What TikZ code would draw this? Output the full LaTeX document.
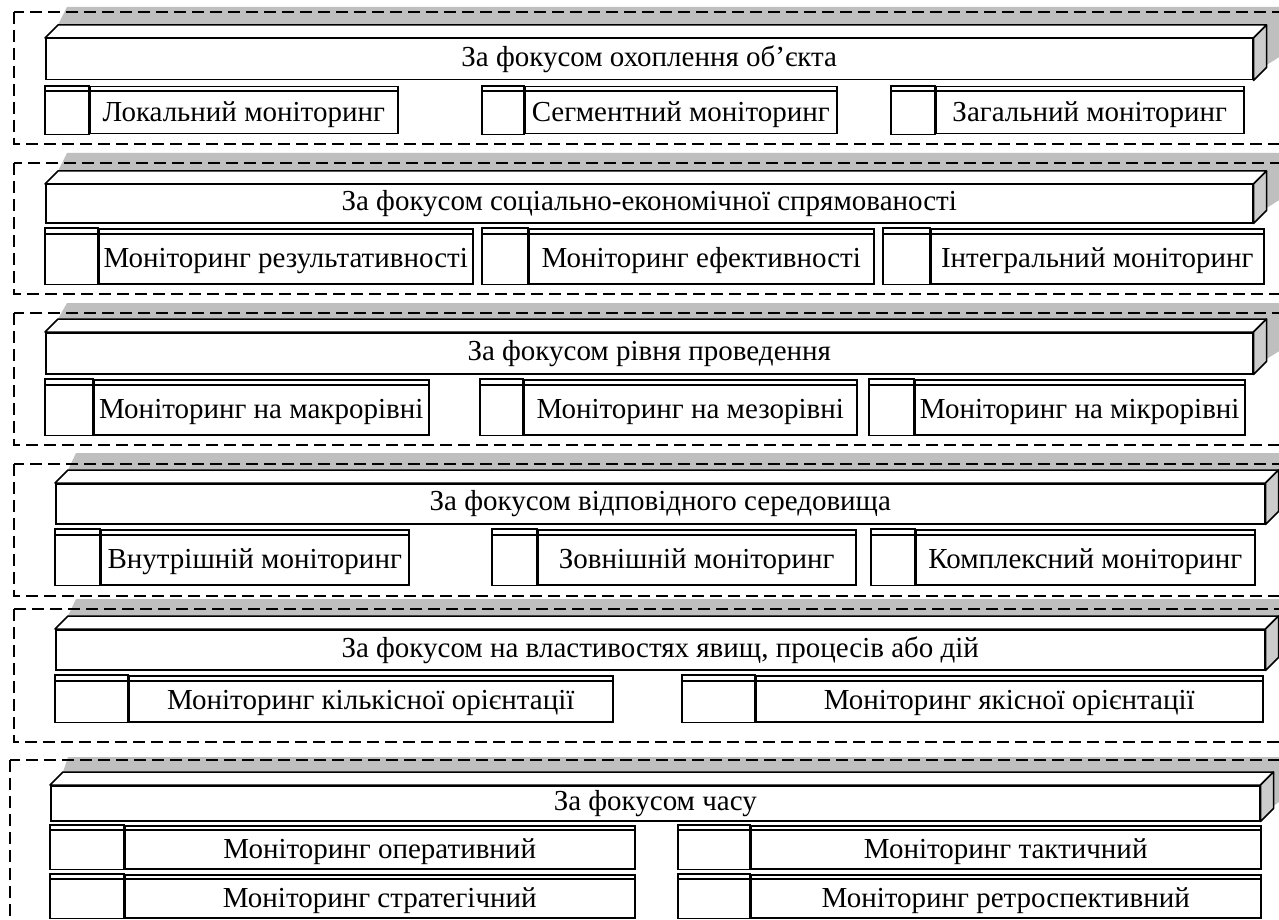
\documentclass[tikz,border=0pt]{standalone}
\usepackage{fontspec}
\setmainfont{Liberation Serif}
\usetikzlibrary{positioning}
\tikzset{frame/.style={draw, line width=1.5pt, dash pattern=on 12pt off 6pt}}
\tikzset{shade/.style={fill=black!25}}
\tikzset{txt/.style={font=\fontsize{29}{34}\selectfont}}
\tikzset{head/.style={draw, fill=white, line width=1.5pt, inner sep=0pt,
    anchor=north west, txt}}
\tikzset{face/.style={draw, fill=white, line width=1.5pt, line join=round}}
\tikzset{side/.style={face, fill=black!20}}
\tikzset{cell/.style={draw, fill=white, line width=1.5pt, inner sep=0pt,
    anchor=north west, text height=26pt, text depth=4pt, txt}}
\tikzset{rim/.style={draw, line width=1.5pt}}
\newcommand{\prism}[1]{%
  \draw[face] (#1.north west) -- ++(13,-13) -- ([shift={(13,-13)}]#1.north east)
    -- (#1.north east) -- cycle;
  \draw[side] (#1.north east) -- ++(13,-13) -- ([shift={(13,-13)}]#1.south east)
    -- (#1.south east) -- cycle;}

\begin{document}
\begin{tikzpicture}[x=1pt, y=-1pt]
    \useasboundingbox (0,0) rectangle (1279,920);
    \clip (0,0) rectangle (1279,920);
    % object coverage
    \fill[shade] (67,7) -- (1300,7) -- (1300,44) -- (1265,66) -- (1265,25) -- (58,25) -- cycle;
    \draw[frame] (14,12) rectangle (1300,144);
    \node[head, minimum width=1207, minimum height=41] (g1) at (45,38) {За фокусом охоплення об’єкта};
    \prism{g1}
    \foreach \n/\xa/\xb/\xc/\lab in {g1a/45/89/397/Локальний моніторинг,
        g1b/482/524/836/Сегментний моніторинг, g1c/891/935/1243/Загальний моніторинг}{
      \node[cell, minimum width=\xc-\xb, minimum height=47] (\n) at (\xb,86) {\lab};
      \draw[rim] (\xa,86) rectangle (\n.south west);
      \draw[rim] (\xa,91) -- (\xc,91);
    }
    % social-economic
    \fill[shade] (67,153) -- (1300,153) -- (1300,187) -- (1265,209) -- (1265,171) -- (58,171) -- cycle;
    \draw[frame] (14,163) rectangle (1300,294);
    \node[head, minimum width=1207, minimum height=38] (g2) at (45,184) {За фокусом соціально-економічної спрямованості};
    \prism{g2}
    \foreach \n/\xa/\xb/\xc/\lab in {g2a/45/98/472/Моніторинг результативності,
        g2b/482/528/873/Моніторинг ефективності, g2c/883/930/1263/Інтегральний моніторинг}{
      \node[cell, minimum width=\xc-\xb, minimum height=55] (\n) at (\xb,228) {\lab};
      \draw[rim] (\xa,228) rectangle (\n.south west);
      \draw[rim] (\xa,234) -- (\xc,234);
    }
    % level
    \fill[shade] (67,303) -- (1300,303) -- (1300,338) -- (1265,360) -- (1265,319) -- (58,319) -- cycle;
    \draw[frame] (14,313) rectangle (1300,445);
    \node[head, minimum width=1207, minimum height=41] (g3) at (45,332) {За фокусом рівня проведення};
    \prism{g3}
    \foreach \n/\xa/\xb/\xc/\lab in {g3a/45/93/428/Моніторинг на макрорівні,
        g3b/480/523/856/Моніторинг на мезорівні, g3c/869/914/1244/Моніторинг на мікрорівні}{
      \node[cell, minimum width=\xc-\xb, minimum height=55] (\n) at (\xb,379) {\lab};
      \draw[rim] (\xa,379) rectangle (\n.south west);
      \draw[rim] (\xa,385) -- (\xc,385);
    }
    % environment
    \fill[shade] (76,453) -- (1300,453) -- (1300,488) -- (1277,510) -- (1277,470) -- (68,470) -- cycle;
    \draw[frame] (14,464) rectangle (1300,596);
    \node[head, minimum width=1209, minimum height=40] (g4) at (55,483) {За фокусом відповідного середовища};
    \prism{g4}
    \foreach \n/\xa/\xb/\xc/\lab in {g4a/55/100/408/Внутрішній моніторинг,
        g4b/492/537/855/Зовнішній моніторинг, g4c/871/915/1254/Комплексний моніторинг}{
      \node[cell, minimum width=\xc-\xb, minimum height=55] (\n) at (\xb,529) {\lab};
      \draw[rim] (\xa,529) rectangle (\n.south west);
      \draw[rim] (\xa,535) -- (\xc,535);
    }
    % properties
    \fill[shade] (76,599) -- (1300,599) -- (1300,634) -- (1277,656) -- (1277,616) -- (68,616) -- cycle;
    \draw[frame] (14,609) rectangle (1300,742);
    \node[head, minimum width=1209, minimum height=40] (g5) at (55,629) {За фокусом на властивостях явищ, процесів або дій};
    \prism{g5}
    \foreach \n/\xa/\xb/\xc/\lab in {g5a/55/128/612/Моніторинг кількісної орієнтації,
        g5b/682/755/1262/Моніторинг якісної орієнтації}{
      \node[cell, minimum width=\xc-\xb, minimum height=46] (\n) at (\xb,675) {\lab};
      \draw[rim] (\xa,675) rectangle (\n.south west);
      \draw[rim] (\xa,681) -- (\xc,681);
    }
    % time
    \fill[shade] (68,757) -- (1300,757) -- (1300,787) -- (1272,807) -- (1272,772) -- (63,772) -- cycle;
    \draw[frame] (10,760) rectangle (1300,960);
    \node[head, minimum width=1209, minimum height=35] (g6) at (50,785) {За фокусом часу};
    \prism{g6}
    \foreach \n/\xa/\xb/\xc/\y/\lab in {g6a/50/124/634/825/Моніторинг оперативний,
        g6b/678/750/1260/825/Моніторинг тактичний, g6c/50/124/634/874/Моніторинг стратегічний,
        g6d/678/750/1260/874/Моніторинг ретроспективний}{
      \node[cell, minimum width=\xc-\xb, minimum height=43] (\n) at (\xb,\y) {\lab};
      \draw[rim] (\xa,\y) rectangle (\n.south west);
      \draw[rim] (\xa,\y+5) -- (\xc,\y+5);
    }
\end{tikzpicture}
\end{document}
